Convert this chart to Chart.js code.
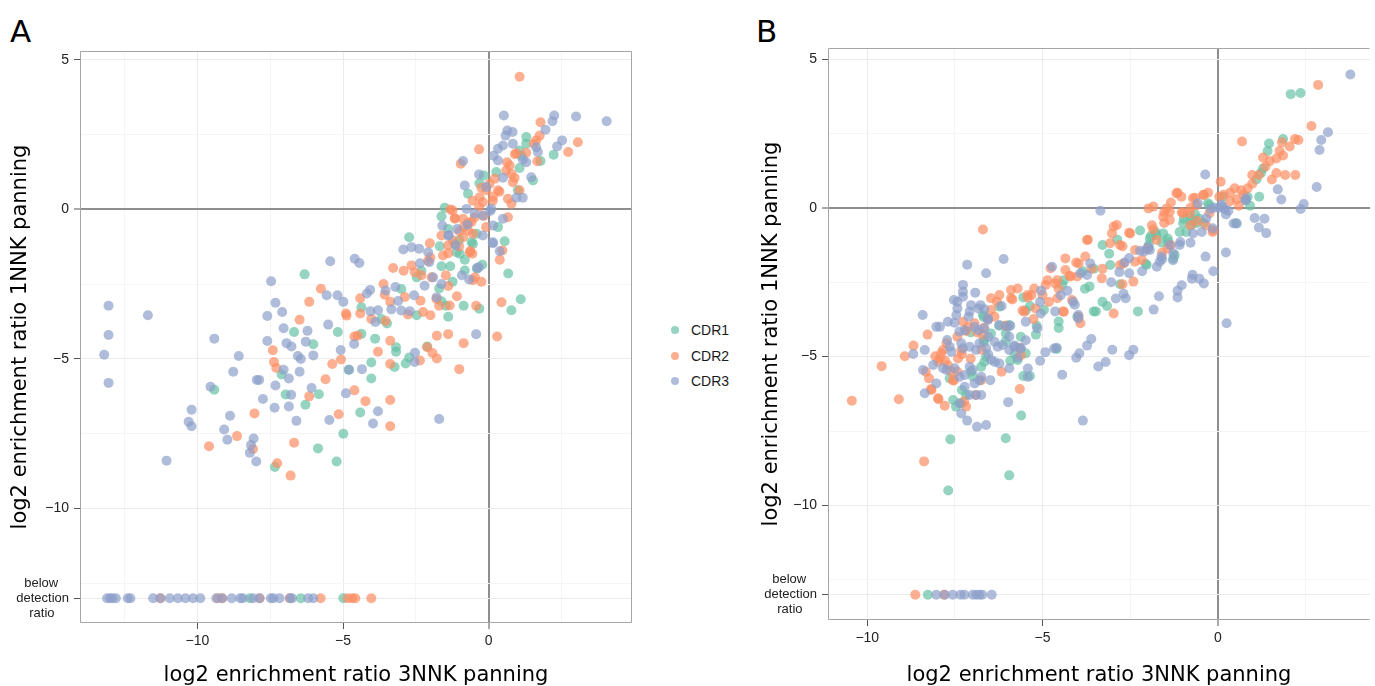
<!DOCTYPE html>
<html>
<head>
<meta charset="utf-8">
<title>log2 enrichment ratio 1NNK vs 3NNK panning</title>
<script src="https://cdn.jsdelivr.net/npm/chart.js@4/dist/chart.umd.min.js"></script>
<style>
  html, body { margin: 0; padding: 0; background: #fff; }
  body { position: relative; width: 1375px; height: 686px; overflow: hidden; }
  canvas { position: absolute; top: 0; }
  #chartA { left: 0; }
  #chartB { left: 752px; }
  .tag { position: absolute; top: 16px; font-family: "DejaVu Sans", sans-serif; font-size: 31px; line-height: 31px; color: #000; }
  .dot { position: absolute; left: 671px; width: 8px; height: 8px; border-radius: 50%; }
  .lab { position: absolute; left: 691px; height: 20px; line-height: 20px; font-family: "Liberation Sans", Arial, sans-serif; font-size: 14px; color: #1a1a1a; }
</style>
</head>
<body>
<div class="tag" style="left:10px">A</div>
<div class="tag" style="left:756px">B</div>
<canvas id="chartA" width="650" height="686"></canvas>
<canvas id="chartB" width="623" height="686"></canvas>
<div id="legend"></div>
<script>
// values: [log2 ratio 3NNK, log2 ratio 1NNK]
var BELOW = -13;   // where "below detection ratio" sits on the y axis
var BELOW_LABEL = ['below   ', 'detection', 'ratio    '];
var X_TICKS = [-10, -5, 0];
var Y_TICKS = [BELOW, -10, -5, 0, 5];
var X_MINOR = [-12.5, -7.5, -2.5, 2.5];
var Y_MINOR = [-12.5, -7.5, -2.5, 2.5];
var SERIES = ['CDR1', 'CDR2', 'CDR3'];

// ---- panel A ----
var A_CDR1 = [[0.67,-2.14],[1.1,-3.0],[0.78,-3.37],[-0.32,-3.32],[-0.86,-3.22],[-1.24,-2.42],[-2.47,-2.27],[-3.0,-2.66],[-1.7,-2.64],[-1.62,-3.07],[-1.39,-3.59],[-2.47,-3.54],[-3.49,-3.81],[-3.69,-3.66],[-3.18,-4.61],[-3.18,-4.76],[-3.23,-5.27],[-2.85,-5.15],[-2.73,-4.95],[-2.11,-4.58],[-3.9,-4.32],[-4.03,-5.12],[-4.03,-5.65],[-4.41,-6.79],[-4.99,-7.5],[-5.22,-8.43],[-5.86,-7.99],[-6.29,-6.53],[-5.83,-6.18],[-6.02,-4.51],[-6.32,-2.17],[-6.68,-4.1],[-7.11,-5.52],[-6.97,-6.19],[-7.34,-8.61],[-9.42,-6.03],[-5.18,-4.1],[-4.81,-5.36],[-1.47,-3.22],[-2.31,-2.05],
  [-0.4,-1.98],[-1.32,-1.9],[-1.62,-1.9],[-1.01,-1.02],[-0.32,0.88],[1.06,1.39],
  [-1.4,-0.65],[-1.17,-1.15],[-1.11,-1.43],[-0.59,-1.09],[-0.42,-0.81],[-0.82,-2.04],[-4.37,-3.27],[-4.37,-4.16],
  [1.29,2.42],[1.29,2.2],[1.06,1.97],[1.12,1.8],[2.23,1.83],[1.78,1.62],[1.52,0.97],[0.26,1.25],[-0.17,1.14],[-0.71,0.53],[-1.51,0.06],[-1.62,-0.23],[-2.73,-0.93],[-1.68,-1.23],[-0.99,-1.48],[-0.82,-1.68],[0.55,-1.06],[0.32,-0.59],[-0.22,-1.85],[-0.54,-1.15],[1.0,0.64]];
var A_CDR2 = [[-2.31,-2.2],[-1.96,-2.27],[-2.92,-2.05],[-1.47,-2.2],[-0.47,-2.27],[-0.25,-2.42],[0.44,-3.1],[0.29,-4.25],[-0.86,-4.47],[-1.01,-5.34],[-0.43,-3.22],[-1.09,-2.9],[-1.39,-2.56],[-1.7,-3.22],[-2.0,-3.54],[-2.34,-3.05],[-2.88,-2.93],[-2.77,-3.51],[-3.38,-3.09],[-3.61,-2.49],[-3.54,-3.73],[-3.38,-4.39],[-3.38,-5.17],[-3.38,-6.37],[-3.38,-7.25],[-3.8,-4.76],[-4.23,-6.41],[-4.61,-6.05],[-5.15,-6.85],[-5.6,-5.68],[-5.37,-5.17],[-5.07,-5.02],[-4.61,-4.25],[-4.5,-4.22],[-4.9,-3.48],[-4.41,-3.48],[-4.41,-2.97],[-4.03,-3.66],[-1.78,-4.22],[-1.39,-4.17],[-2.11,-4.61],[-1.93,-4.8],[-1.78,-4.98],[-2.36,-5.05],[-5.76,-2.65],[-6.16,-3.09],[-6.49,-3.69],[-7.41,-4.71],[-7.37,-5.1],[-7.29,-5.3],[-6.16,-6.25],[-8.04,-6.82],[-8.64,-7.58],[-8.09,-8.01],[-9.6,-7.92],[-7.26,-8.49],[-6.8,-8.9],[-6.68,-7.8],
  [-2.25,-3.43],[-1.34,-3.21],[-0.54,-2.37],[-4.88,-3.55],[-3.57,-2.85],[-2.54,-2.1],[-1.22,-1.04],[-1.79,-2.99],
  [1.06,4.44],[1.29,1.9],[1.67,1.61],[0.37,0.59],[0.14,0.29],[-0.25,0.73],[-0.55,0.29],[-0.17,-0.22],[-0.09,-0.59],[-0.7,-0.44],[-0.86,-0.59],[-1.16,-0.29],[-1.32,0],[-1.01,-0.73],[-2.0,-1.61],[-1.39,-1.46],[-1.01,-1.24],[-0.63,-1.39],
  [1.78,2.92],[1.75,2.47],[3.06,2.25],[2.73,1.92],[-0.33,2.01],[-0.96,1.53],[1.63,2.31],[1.55,2.2],[0.95,1.88],[0.9,1.85],[0.63,1.58],[0.72,1.47],[0.6,1.3],[0.78,1.19],[0.89,1.06],[0.83,0.91],[1.06,0.64],[0.66,0.36],[0.78,0.19],[0.32,0.64],[0.15,0.43],[0.21,1.03],[0.03,0.86],[-0.08,0.64],[-0.31,0.41],[-0.2,0.24],[-0.33,0.08],[-0.48,-0.26],[-0.59,-0.42],[-0.71,-0.7],[-0.88,-0.31],[-1.24,-0.03],[-1.16,-0.31],[-1.62,-0.87],[-1.39,-1.2],[-0.88,-0.93],[-0.54,-0.81],[-0.65,-1.43],[-0.56,-1.48],[-2.02,-1.13],[-1.57,-1.54],[0.38,-1.68],[0.47,-1.37],[0.66,-0.26],[-3.28,-1.96],[-2.65,-1.87],[-2.08,-1.71]];
var A_CDR3 = [[-13.2,-4.86],[-13.05,-3.22],[-13.05,-4.2],[-13.05,-5.8],[-11.7,-3.54],[-11.06,-8.4],[-10.2,-6.7],[-10.3,-7.1],[-10.2,-7.25],[-9.42,-4.32],[-9.55,-5.93],[-9.08,-7.36],[-8.97,-7.7],[-8.88,-6.9],[-8.77,-5.43],[-8.58,-4.9],[-8.2,-8.14],[-8.16,-7.88],[-8.07,-7.66],[-7.98,-8.43],[-7.75,-6.34],[-7.96,-5.7],[-7.88,-5.7],[-7.6,-4.4],[-7.6,-3.56],[-7.47,-2.4],[-7.32,-3.12],[-7.09,-3.43],[-7.04,-3.97],[-6.94,-4.47],[-7.35,-6.63],[-7.32,-5.89],[-7.04,-5.36],[-6.86,-5.65],[-6.86,-6.59],[-6.78,-6.2],[-6.77,-4.58],[-6.6,-7.07],[-6.49,-5.43],[-6.55,-4.9],[-6.45,-5.0],[-6.22,-4.06],[-6.28,-4.42],[-6.08,-5.97],[-6.02,-4.88],[-5.47,-7.04],[-5.51,-3.85],[-5.56,-2.87],[-5.44,-1.73],[-5.19,-2.87],[-4.99,-3.09],[-5.08,-4.7],[-4.9,-6.15],[-4.79,-5.36],[-4.62,-4.5],[-4.6,-1.65],[-4.44,-1.79],[-4.35,-5.34],[-3.97,-7.16],[-3.8,-6.75],[-4.18,-2.81],[-4.07,-2.69],[-4.06,-3.4],[-3.89,-3.76],[-3.8,-3.37],[-3.54,-2.71],[-3.2,-2.59],[-3.34,-3.34],[-3.11,-3.06],[-2.56,-2.87],[-2.53,-4.79],[-2.54,-5.1],[-1.7,-7.01],[-2.2,-2.55],[-1.38,-0.88],[-0.92,-2.2],[-0.67,-2.34],[-0.43,-4.17],[-0.4,-1.96],[0.14,-1.1],
  [0.38,-1.4],[-1.62,-2.49],[-1.91,-2.27],[-1.79,-2.94],[-3.0,-3.38],[-2.71,-3.4],
  [0.52,3.14],[2.25,3.14],[2.19,2.95],[3.0,3.11],[4.05,2.95],[1.95,2.67],[2.52,2.31],[2.35,2.11],[0.64,2.64],[0.82,2.59],[0.58,2.47],[0.83,2.2],[0.49,2.14],[0.32,2.03],[0.17,1.8],[0.32,1.64],[-0.88,1.62],[-0.33,1.17],[-0.82,0.8],[1.63,2.08],[1.69,1.92],[1.29,1.58],[1.17,1.67],[1.46,1.08],[0.95,0.39],[1.17,0.39],[0.49,1.06],[-0.08,0.75],[0.09,0.02],[0.05,-0.05],[-0.2,-0.2],[-0.48,-0.14],[-0.76,0.02],[0.49,-0.31],[0.15,-0.54],[-0.73,-0.51],[-1.59,-0.54],[-1.37,-0.85],[-1.08,-0.65],[-0.2,-0.87],[0.15,-1.13],[-2.93,-1.34],[-2.65,-1.26],[-2.39,-1.31],[-2.08,-1.43],[-2.04,-1.76],[-2.36,-1.8],[-1.13,-1.2],[-0.34,-1.93]];
// x positions of the points sitting on the "below detection ratio" row
var A_CDR1_BELOW = [-8.2, -6.45, -4.99];
var A_CDR2_BELOW = [-11.27, -9.3, -9.15, -7.86, -6.83, -5.77, -4.84, -4.69, -4.58, -4.03];
var A_CDR3_BELOW = [-13.1, -13.0, -12.92, -12.8, -12.39, -12.3, -11.52, -11.27, -10.95, -10.67, -10.41, -10.15, -9.9, -9.35, -9.15, -8.82, -8.53, -8.44, -8.09, -7.87, -7.48, -7.39, -7.18, -6.82, -6.75, -6.2, -6.02];

// ---- panel B ----
var B_CDR1 = [[2.08,3.82],[2.36,3.86],[1.46,2.16],[1.42,1.91],[1.86,2.31],[1.23,1.17],[1.29,1.32],[1.1,0.95],[0.92,0.07],[0.85,0.37],[-0.28,0.15],[-0.53,-0.37],[-0.72,-0.44],[-0.97,-0.37],[-1.09,-0.81],[-0.9,-0.81],[-0.65,-0.22],[-0.4,-0.51],[-1.43,-1.03],[-1.59,-1.17],[-1.91,-0.95],[-1.97,-1.25],[-2.06,-1.88],[-2.22,-0.76],[-1.78,-0.81],[-2.28,-3.48],[-2.79,-2.57],[-3.1,-1.54],[-2.87,-1.07],[-3.29,-1.25],[-3.29,-3.16],[-3.16,-3.3],[-3.48,-3.48],[-3.54,-3.48],[-3.79,-2.72],[-3.66,-2.64],[-3.85,-2.13],[-3.54,-2.05],[-4.54,-3.82],[-4.54,-4.04],[-4.6,-4.74],[-5.55,-5.65],[-5.36,-5.65],[-5.61,-6.98],[-5.19,-4.26],[-5.17,-3.96],[-5.48,-3.45],[-5.36,-3.3],[-5.55,-3.01],[-5.92,-5.14],[-5.8,-4.92],[-6.05,-4.48],[-6.05,-7.74],[-5.95,-8.99],[-7.63,-7.78],[-7.69,-9.5],[-7.55,-6.46],[-7.47,-6.68],[-6.68,-3.67],[-6.7,-3.6],[-6.24,-3.96],[-6.05,-3.96],[-7.05,-4.19],[-6.68,-4.52],[-7.3,-6.12],
  [-3.07,-1.92],[-4.01,-3.66],[-4.44,-2.59],[-4.39,-2.43],[-1.94,-1.03],[-1.75,-0.91],[-1.56,-0.86],[-1.42,-1.14],[-1.98,-1.36],[-1.27,-1.7],[-1.23,-1.59],[-0.61,-0.52],[-0.8,-0.3],[-2.03,-1.92],
  [1.18,0.37],[0.8,0.26],[0.14,0.37],[-0.24,0.09],[-0.76,-0.58],[-0.99,-0.52],[0.52,-0.52],
  [-7.18,-6.29],[-7.32,-6.57],[-7.65,-5.73],[-6.99,-5.67],[-7.04,-5.51],[-6.66,-5.17],[-6.75,-5.34],[-6.61,-5.0],[-6.66,-4.44],[-6.47,-4.22],[-5.95,-3.94],[-6.23,-3.32],[-6.05,-4.22],[-5.71,-5.11],[-5.48,-4.89],[-5.62,-4.33],[-4.96,-3.43]];
var B_CDR2 = [[2.86,4.13],[2.67,2.75],[2.2,2.31],[2.3,2.28],[0.69,2.23],[1.83,2.2],[1.76,1.91],[1.86,1.76],[1.67,1.66],[1.48,1.57],[1.29,1.69],[2.05,2.06],[2.21,1.1],[1.92,1.1],[1.54,0.95],[1.67,1.17],[1.36,1.39],[1.17,1.1],[0.98,1.1],[0.98,0.81],[0.85,0.66],[0.66,0.59],[0.48,0.66],[0.35,0.51],[0.16,0.44],[0.04,0.37],[0.73,0.44],[0.54,0.29],[0.35,0.22],[0.6,0.07],[0.08,0.88],[-0.28,0.51],[-0.4,0.44],[-0.65,0.34],[-0.78,0],[-1.03,-0.15],[-1.15,0.51],[-1.34,0.18],[-1.53,-0.15],[-0.15,-0.81],[-0.34,-0.59],[-0.59,-0.44],[-0.78,-0.59],[-1.53,-0.51],[-1.88,-0.59],[-1.84,-0.73],[-1.43,-1.37],[-1.59,-1.51],[-1.34,-1.25],[-2.03,-1.39],[-2.53,-0.84],[-2.72,-1.29],[-2.72,-2.57],[-3.71,-1.07],[-4.04,-1.84],[-4.23,-2.28],[-4.54,-2.72],[-4.64,-2.54],[-3.29,-2.05],[-3.6,-2.05],[-4.42,-3.48],[-4.82,-3.16],[-5.42,-3.01],[-5.32,-2.94],[-5.86,-3.08],[-5.57,-3.45],[-5.26,-3.74],[-6.3,-3.16],[-6.7,-0.73],[-6.05,-3.96],[-5.67,-4.7],[-6.17,-5.51],[-5.65,-6.09],[-7.18,-6.68],[-7.24,-6.5],[-7.79,-6.65],[-7.97,-6.43],[-8.18,-6.09],[-8.24,-5.73],[-8.33,-5.51],[-8.28,-4.26],[-8.68,-4.63],[-8.93,-4.99],[-9.59,-5.32],[-9.1,-6.43],[-10.44,-6.48],[-8.38,-8.52],[-7.89,-4.89],[-7.78,-5.14],[-7.7,-5.29],[-7.62,-5.48],[-7.53,-5.8],[-7.43,-5.51],[-7.3,-4.92],[-7.05,-5.07],[-6.74,-4.77],[-6.86,-4.19],[-6.68,-4.04],[-6.55,-3.74],[-7.43,-4.33],[-7.18,-4.14],[-7.74,-4.55],[-8.06,-4.99],[-7.93,-5.07],
  [-1.98,-0.02],[-1.84,0.04],[-1.46,-0.02],[-1.37,-0.13],[-1.18,0.49],[-1.04,0.37],[-0.71,0.32],[-0.42,0.43],[-0.61,0.09],[-0.99,-0.18],[-0.8,-0.18],[-0.24,-0.18],[-0.14,-0.75],[-1.56,-0.3],[-1.37,-0.41],[-2.97,-0.63],[-2.88,-0.58],[-3.02,-0.86],[-3.07,-1.19],[-2.79,-1.25],[-2.5,-0.86],[-2.36,-1.42],[-1.75,-1.08],[-2.17,-1.75],[-2.36,-1.81],[-2.69,-1.87],[-2.79,-1.92],[-2.41,-2.48],[-2.97,-3.55],[-3.31,-2.37],[-3.97,-1.87],[-3.78,-1.64],[-3.73,-1.08],[-4.35,-1.7],[-4.35,-2.09],[-4.01,-2.31],[-4.2,-2.31],[-4.58,-2.43],[-4.86,-2.43],[-4.91,-2.59],[-4.77,-2.03],[-5.0,-2.93],[-5.24,-2.71],[-5.43,-2.93],[-5.71,-2.71],[-5.9,-2.76],[-5.9,-3.04],[-6.23,-2.93],[-6.47,-3.04],[-6.37,-3.66],[-5.52,-3.49],[-5.2,-3.38],[-4.58,-3.04],[-4.39,-3.49],[-3.92,-3.88],[-4.16,-3.1],[-3.97,-3.66],
  [-7.84,-4.78],[-7.98,-5.17],[-8.17,-6.12],[-7.98,-6.4],[-7.56,-5.79],[-7.32,-4.78],[-7.41,-5.06],[-7.27,-3.83],[-6.94,-3.88],[-6.7,-4.27],[-6.47,-3.43],[-6.75,-5.79],[-6.9,-6.29],[-5.62,-4.95],[-7.13,-4.0]];
var B_CDR3 = [[3.78,4.48],[3.14,2.54],[2.95,2.28],[2.9,1.94],[2.82,0.7],[2.45,0.13],[2.36,-0.04],[1.81,0.28],[1.71,0.62],[1.38,-0.85],[1.33,-0.37],[1.17,-0.66],[1.05,-0.34],[0.54,-0.53],[0.45,-0.53],[0.79,0.25],[0.8,0.32],[0.23,-1.5],[0.25,-3.88],[-0.13,-2.13],[-0.35,-1.64],[-0.36,1.12],
  [0.04,0],[-0.09,0],[0.13,0.04],[-0.21,-0.04],[0.2,-0.05],[0.3,-0.1],[0.1,0.1],[0.23,-0.22],[-0.15,-0.69],[-0.46,-0.81],[-0.78,-1.17],[-0.33,-0.35],[-0.57,0.15],[-0.71,-0.86],[-1.09,-1.25],[-1.37,-1.25],[-1.27,-1.53],[-1.61,-1.64],[-1.94,-1.42],[-2.22,-1.44],
  [-0.4,-2.54],[-0.53,-2.38],[-0.72,-2.25],[-0.74,-2.38],[-1.03,-2.6],[-1.15,-2.79],[-1.15,-3.01],[-1.68,-2.97],[-1.83,-3.42],[-1.07,-1.15],[-1.28,-1.76],[-1.59,-1.73],[-1.66,-1.81],[-1.74,-1.98],[-1.99,-1.32],[-2.1,-1.47],[-2.16,-2.13],[-2.41,-4.77],[-2.53,-4.95],[-2.63,-3.04],[-2.69,-2.89],[-2.91,-3.05],[-2.53,-1.69],[-2.66,-1.84],[-2.53,-2.2],[-2.81,-2.16],[-3.01,-4.77],[-3.2,-5.18],[-3.41,-5.33],[-3.04,-2.5],[-3.35,-0.1],[-3.61,-4.41],[-3.73,-4.63],[-3.95,-4.89],[-4.04,-5.04],[-3.85,-7.15],[-4.44,-5.61],[-4.6,-4.7],[-4.67,-4.73],[-4.29,-2.79],[-4.48,-2.94],[-4.13,-3.16],[-4.08,-3.26],[-3.98,-3.6],[-3.98,-3.72],[-4.73,-1.98],[-4.64,-3.48],[-5.04,-2.79],[-5.07,-3.16],[-5.07,-5.14],[-4.92,-4.85],[-5.42,-5.4],[-5.42,-5.68],[-5.48,-4.45],[-5.63,-4.73],[-5.8,-4.63],[-5.71,-5.04],[-5.98,-6.53],[-6.11,-1.72],[-6.61,-2.2],[-7.15,-1.91],
  [-3.92,-2.2],[-3.73,-2.26],[-3.64,-1.87],[-5.05,-3.55],
  [-7.27,-2.59],[-7.27,-2.82],[-7.27,-2.99],[-6.92,-2.85],[-7.53,-3.1],[-7.43,-3.38],[-7.46,-3.6],[-7.7,-3.83],[-7.51,-3.86],[-7.22,-4.11],[-7.37,-4.16],[-7.04,-3.27],[-7.08,-3.49],[-7.11,-3.66],[-6.77,-3.27],[-6.66,-3.41],[-6.56,-3.71],[-6.94,-4.0],[-6.82,-4.11],[-6.66,-4.05],[-8.42,-3.6],[-8.03,-4.0],[-7.93,-4.0],[-8.36,-4.78],[-8.69,-4.91],[-7.72,-4.44],[-7.65,-4.67],[-7.6,-4.84],[-7.32,-4.55],[-7.27,-4.72],[-7.08,-4.67],[-6.9,-4.78],[-6.8,-4.55],[-6.61,-4.72],[-6.47,-5.11],[-6.28,-4.67],[-6.14,-4.61],[-5.95,-4.78],[-5.81,-4.67],[-5.62,-4.72],[-6.0,-4.0],[-5.95,-4.33],[-6.23,-3.94],[-6.37,-4.5],[-6.56,-3.77],[-8.12,-5.28],[-8.03,-5.9],[-8.36,-6.23],[-8.41,-5.45],[-7.84,-5.39],[-7.74,-5.45],[-7.51,-5.39],[-7.37,-5.68],[-7.22,-5.62],[-7.08,-5.34],[-6.99,-5.45],[-6.94,-5.9],[-6.75,-5.68],[-7.22,-6.01],[-7.37,-6.57],[-7.32,-6.91],[-7.15,-7.15],[-6.87,-7.36],[-6.61,-7.3],[-7.08,-6.29],[-6.9,-6.29],[-6.75,-6.29],[-6.49,-5.79],[-6.23,-5.23],[-5.95,-5.39],[-5.48,-3.83],[-5.15,-4.05],[-6.83,-3.38],[-7.43,-3.16],[-6.8,-5.8],[-6.55,-4.33],[-6.55,-4.92],[-6.36,-5.18],[-5.92,-3.96],[-6.17,-3.3]];
var B_CDR1_BELOW = [-8.27];
var B_CDR2_BELOW = [-8.63, -7.81];
var B_CDR3_BELOW = [-8.03, -7.79, -7.56, -7.34, -7.23, -6.99, -6.89, -6.8, -6.72, -6.45];

var colors = ['102, 194, 165', '252, 141, 98', '141, 160, 203'];

function fmt(v) {
  return v < 0 ? '\u2212' + Math.abs(v) : String(v);
}

function toPoints(pairs, below) {
  return pairs.map(function (p) { return {x: p[0], y: p[1]}; })
    .concat(below.map(function (x) { return {x: x, y: BELOW}; }));
}

function setTicks(major, minor) {
  return function (scale) {
    scale.ticks = major.concat(minor)
      .filter(function (v) { return v >= scale.min && v <= scale.max; })
      .sort(function (a, b) { return a - b; })
      .map(function (v) { return {value: v}; });
  };
}

function gridStyle(major) {
  return {
    color: function (c) {
      var v = c.tick ? c.tick.value : null;
      if (v === 0) return '#8e8e8e';
      return major.indexOf(v) >= 0 ? '#ebebeb' : '#f5f5f5';
    },
    lineWidth: function (c) { return c.tick && c.tick.value === 0 ? 2 : 1; },
    tickColor: function (c) { return c.tick && major.indexOf(c.tick.value) >= 0 ? '#555' : 'rgba(0,0,0,0)'; },
    tickLength: 6,
    tickWidth: 1
  };
}

var panelBorder = {
  id: 'panelBorder',
  beforeDatasetsDraw: function (chart, args, opts) {
    var a = chart.chartArea, ctx = chart.ctx;
    ctx.save();
    ctx.strokeStyle = '#a6a6a6';
    ctx.lineWidth = 1;
    ctx.beginPath();
    ctx.moveTo(a.right - 0.5, a.top + 0.5);
    ctx.lineTo(a.left + 0.5, a.top + 0.5);
    ctx.lineTo(a.left + 0.5, a.bottom - 0.5);
    ctx.lineTo(a.right - 0.5, a.bottom - 0.5);
    if (opts.right) ctx.lineTo(a.right - 0.5, a.top + 0.5);
    ctx.stroke();
    ctx.restore();
  }
};

function makeChart(id, sets, below, cfg) {
  var datasets = SERIES.map(function (name, i) {
    return {
      label: name,
      data: toPoints(sets[i], below[i]),
      backgroundColor: 'rgba(' + colors[i] + ', 0.7)',
      borderColor: 'rgba(' + colors[i] + ', 0.7)',
      borderWidth: 0,
      pointRadius: 5,
      pointHoverRadius: 5,
      order: 3 - i
    };
  });

  return new Chart(document.getElementById(id), {
    type: 'scatter',
    data: { datasets: datasets },
    plugins: [panelBorder],
    options: {
      responsive: false,
      animation: false,
      events: [],
      layout: { padding: cfg.padding },
      plugins: {
        legend: { display: false },
        tooltip: { enabled: false },
        panelBorder: { right: cfg.right }
      },
      scales: {
        x: {
          type: 'linear',
          min: cfg.x[0],
          max: cfg.x[1],
          afterBuildTicks: setTicks(X_TICKS, X_MINOR),
          afterFit: function (s) { s.height = cfg.xHeight; },
          grid: gridStyle(X_TICKS),
          border: { display: false },
          ticks: {
            autoSkip: false,
            maxRotation: 0,
            padding: 4,
            color: '#222',
            font: { family: 'Liberation Sans', size: 14 },
            callback: function (v) { return X_TICKS.indexOf(v) >= 0 ? fmt(v) : ''; }
          },
          title: {
            display: true,
            text: 'log2 enrichment ratio 3NNK panning',
            color: '#000',
            font: { family: 'DejaVu Sans', size: 21, lineHeight: 1 },
            padding: 0
          }
        },
        y: {
          type: 'linear',
          min: cfg.y[0],
          max: cfg.y[1],
          afterBuildTicks: setTicks(Y_TICKS, Y_MINOR),
          afterFit: function (s) { s.width = cfg.yWidth; },
          grid: gridStyle(Y_TICKS),
          border: { display: false },
          ticks: {
            autoSkip: false,
            padding: 5,
            color: '#222',
            font: function (c) {
              if (c.tick && c.tick.value === BELOW) return { family: 'Liberation Sans', size: 13, lineHeight: 1.15 };
              return { family: 'Liberation Sans', size: 14 };
            },
            callback: function (v) {
              if (v === BELOW) return BELOW_LABEL;
              return Y_TICKS.indexOf(v) >= 0 ? fmt(v) : '';
            }
          },
          title: {
            display: true,
            text: 'log2 enrichment ratio 1NNK panning',
            color: '#000',
            font: { family: 'DejaVu Sans', size: 21, lineHeight: 1 },
            padding: { top: cfg.yTitlePad }
          }
        }
      }
    }
  });
}

var chartA = makeChart('chartA', [A_CDR1, A_CDR2, A_CDR3], [A_CDR1_BELOW, A_CDR2_BELOW, A_CDR3_BELOW], {
  x: [-14.03, 4.92], y: [-13.83, 5.3],
  padding: { top: 51, right: 18, left: 0, bottom: 0 },
  yWidth: 80, xHeight: 63, yTitlePad: 10, right: true
});

var chartB = makeChart('chartB', [B_CDR1, B_CDR2, B_CDR3], [B_CDR1_BELOW, B_CDR2_BELOW, B_CDR3_BELOW], {
  x: [-11.12, 4.34], y: [-13.85, 5.37],
  padding: { top: 48, right: 0, left: 0, bottom: 0 },
  yWidth: 76, xHeight: 66, yTitlePad: 9, right: false
});

// legend sits between the two panels, like the original
var legend = document.getElementById('legend');
SERIES.forEach(function (name, i) {
  var cy = 330 + i * 25.5;
  var dot = document.createElement('div');
  dot.className = 'dot';
  dot.style.top = (cy - 4) + 'px';
  dot.style.background = 'rgba(' + colors[i] + ', 0.7)';
  var lab = document.createElement('div');
  lab.className = 'lab';
  lab.style.top = (cy - 10) + 'px';
  lab.textContent = name;
  legend.appendChild(dot);
  legend.appendChild(lab);
});
</script>
</body>
</html>
